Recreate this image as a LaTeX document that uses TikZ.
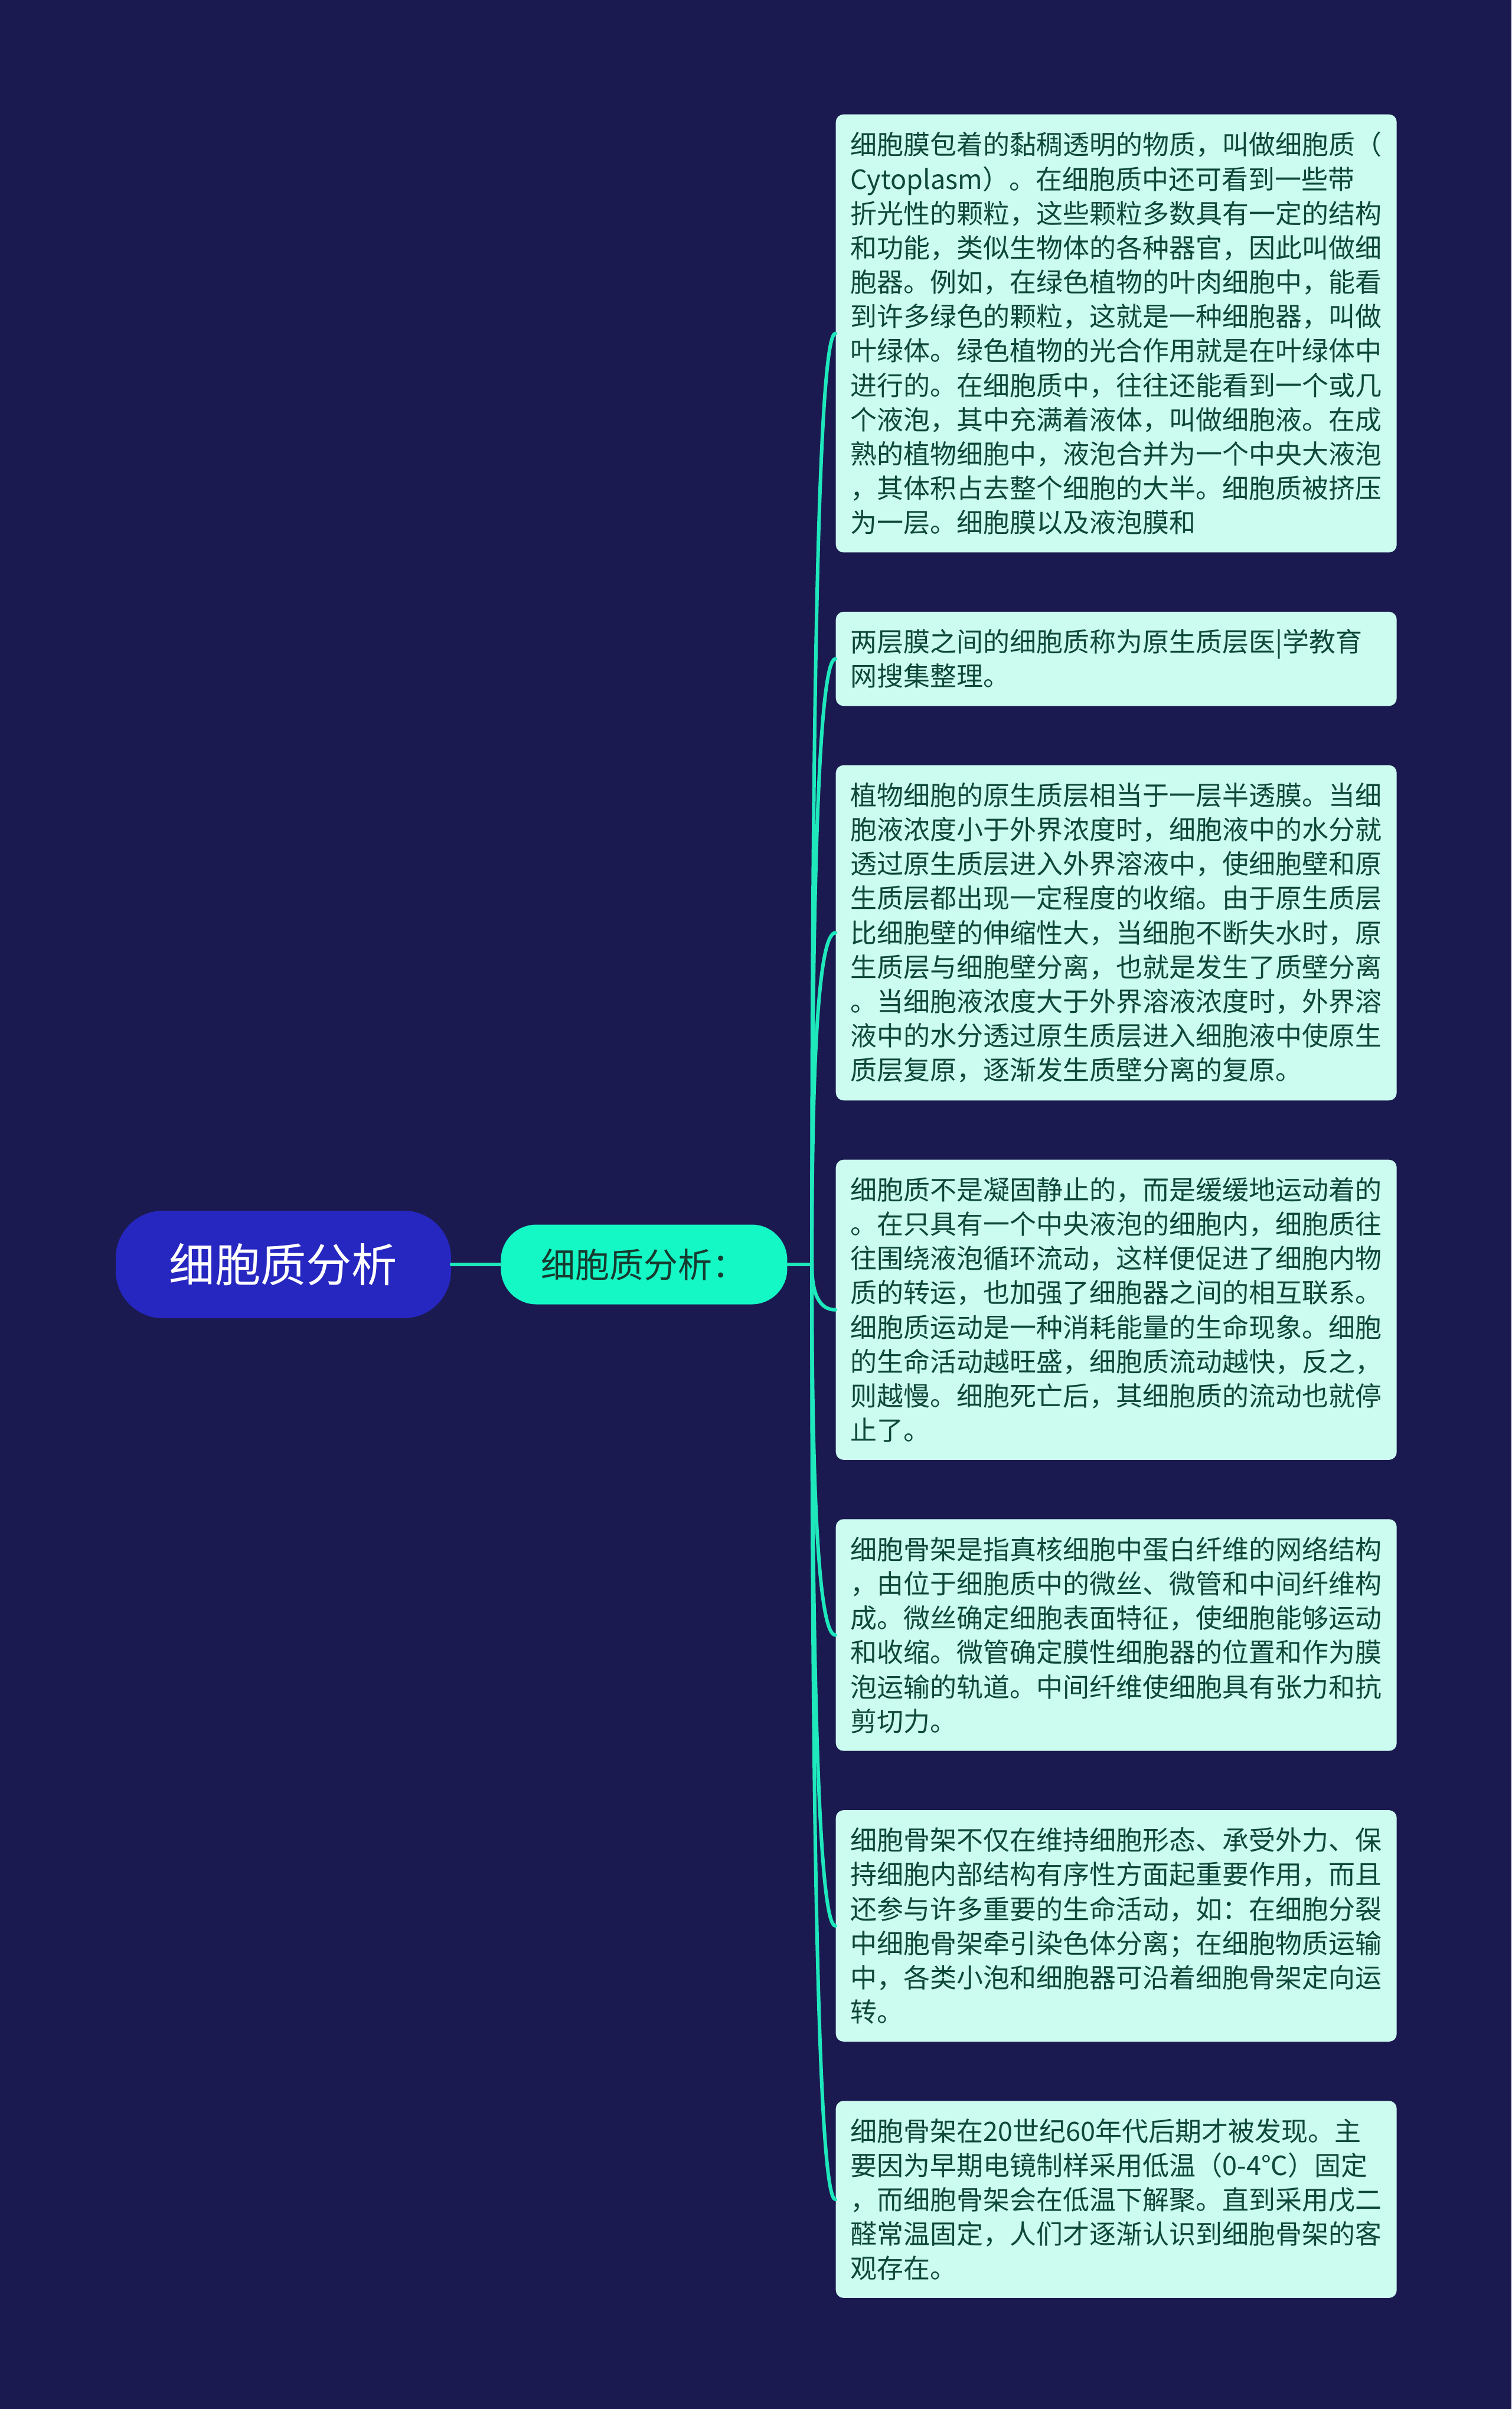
\documentclass[tikz,border=0pt]{standalone}
\usepackage{fontspec}
\setmainfont{Noto Sans CJK SC}
\usepackage{xcolor}
\usepackage{tikz}
\usetikzlibrary{positioning, calc}
\definecolor{bgnavy}{RGB}{27,26,80}
\definecolor{rootblue}{RGB}{38,38,192}
\definecolor{subaqua}{RGB}{20,248,198}
\definecolor{linkaqua}{RGB}{30,232,188}
\definecolor{leafmint}{RGB}{204,252,240}
\definecolor{leaftext}{RGB}{14,72,55}
\definecolor{subtext}{RGB}{22,58,46}
\tikzset{
  rootnode/.style = {
    rectangle, rounded corners=0.8cm,
    minimum width=5.68cm, minimum height=1.82cm,
    fill=rootblue, text=white,
    font=\fontsize{22}{26}\selectfont
  },
  subnode/.style  = {rectangle, rounded corners=0.6cm,
                     minimum width=4.85cm, minimum height=1.35cm,
                     fill=subaqua, text=subtext,
                     font=\fontsize{16.5}{20}\selectfont},
  leaf/.style     = {rectangle, rounded corners=0.13cm,
                     fill=leafmint, text=leaftext,
                     text width=9cm, inner xsep=0.25cm, inner ysep=0.297cm,
                     align=left, font=\fontsize{12.8}{16.55}\selectfont},
  link/.style     = {draw=linkaqua, line width=1.7pt, line cap=round},
}

\begin{document}
\begin{tikzpicture}[node distance=0.99cm and 0.83cm]
  % Canvas
  \fill[bgnavy] (0,0) rectangle (25.60,-40.79);
  \useasboundingbox (0,0) rectangle (25.60,-40.79);

  % Centre and branch
  \node[rootnode] (root) at (4.80,-21.41) {细胞质分析};
  \node[subnode, right=of root] (sub) {细胞质分析：};
  \coordinate (trunk) at ($(sub.east)+(0.41,0)$);

  % Leaves
  \node[leaf, anchor=north west] (l1) at (14.15,-1.93) {细胞膜包着的黏稠透明的物质，叫做细胞质（\\Cytoplasm）。在细胞质中还可看到一些带\\折光性的颗粒，这些颗粒多数具有一定的结构\\和功能，类似生物体的各种器官，因此叫做细\\胞器。例如，在绿色植物的叶肉细胞中，能看\\到许多绿色的颗粒，这就是一种细胞器，叫做\\叶绿体。绿色植物的光合作用就是在叶绿体中\\进行的。在细胞质中，往往还能看到一个或几\\个液泡，其中充满着液体，叫做细胞液。在成\\熟的植物细胞中，液泡合并为一个中央大液泡\\，其体积占去整个细胞的大半。细胞质被挤压\\为一层。细胞膜以及液泡膜和};
  \node[leaf, below=of l1] (l2) {两层膜之间的细胞质称为原生质层医|学教育\\网搜集整理。};
  \node[leaf, below=of l2] (l3) {植物细胞的原生质层相当于一层半透膜。当细\\胞液浓度小于外界浓度时，细胞液中的水分就\\透过原生质层进入外界溶液中，使细胞壁和原\\生质层都出现一定程度的收缩。由于原生质层\\比细胞壁的伸缩性大，当细胞不断失水时，原\\生质层与细胞壁分离，也就是发生了质壁分离\\。当细胞液浓度大于外界溶液浓度时，外界溶\\液中的水分透过原生质层进入细胞液中使原生\\质层复原，逐渐发生质壁分离的复原。};
  \node[leaf, below=of l3] (l4) {细胞质不是凝固静止的，而是缓缓地运动着的\\。在只具有一个中央液泡的细胞内，细胞质往\\往围绕液泡循环流动，这样便促进了细胞内物\\质的转运，也加强了细胞器之间的相互联系。\\细胞质运动是一种消耗能量的生命现象。细胞\\的生命活动越旺盛，细胞质流动越快，反之，\\则越慢。细胞死亡后，其细胞质的流动也就停\\止了。};
  \node[leaf, below=of l4] (l5) {细胞骨架是指真核细胞中蛋白纤维的网络结构\\，由位于细胞质中的微丝、微管和中间纤维构\\成。微丝确定细胞表面特征，使细胞能够运动\\和收缩。微管确定膜性细胞器的位置和作为膜\\泡运输的轨道。中间纤维使细胞具有张力和抗\\剪切力。};
  \node[leaf, below=of l5] (l6) {细胞骨架不仅在维持细胞形态、承受外力、保\\持细胞内部结构有序性方面起重要作用，而且\\还参与许多重要的生命活动，如：在细胞分裂\\中细胞骨架牵引染色体分离；在细胞物质运输\\中，各类小泡和细胞器可沿着细胞骨架定向运\\转。};
  \node[leaf, below=of l6] (l7) {细胞骨架在20世纪60年代后期才被发现。主\\要因为早期电镜制样采用低温（0-4℃）固定\\，而细胞骨架会在低温下解聚。直到采用戊二\\醛常温固定，人们才逐渐认识到细胞骨架的客\\观存在。};

  % Connectors
  \draw[link] (root) -- (sub);
  \draw[link] (sub.east) -- (trunk);
  \foreach \n in {l1,l2,l3,l4,l5,l6,l7}
    \draw[link] (trunk) .. controls ($(trunk)!2/3!(trunk |- \n.west)$)
      and ($(\n.west)!2/3!(trunk |- \n.west)$) .. (\n.west);

\end{tikzpicture}
\end{document}
